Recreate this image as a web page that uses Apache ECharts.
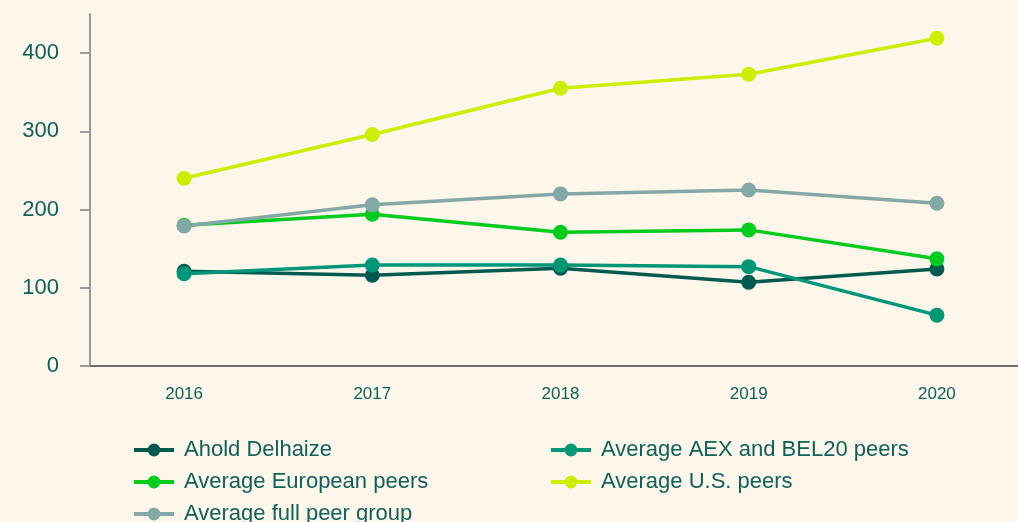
<!DOCTYPE html>
<html lang="en">
<head>
    <meta charset="UTF-8">
    <title>Peer comparison</title>
    <style>
        html, body {
            margin: 0;
            padding: 0;
            background: #fdf7eb;
            overflow: hidden;
        }

        /* the plot runs past the right edge of the window, like the original */
        #main {
            width: 1031px;
            height: 522px;
        }
    </style>
</head>
<body>
<div id="main"></div>
<script src="https://cdn.jsdelivr.net/npm/echarts@6/dist/echarts.min.js"></script>
<script>
    // values
    let years = ['2016', '2017', '2018', '2019', '2020']
    let yTicks = [0, 100, 200, 300, 400]
    let ahold = [121, 116, 125, 107, 124]
    let aexBel = [118, 129, 129, 127, 65]
    let european = [180, 194, 171, 174, 137]
    let usPeers = [240, 296, 355, 373, 419]
    let fullPeers = [179, 206, 220, 225, 208]

    let textColor = '#11605a'
    let font = 'Liberation Sans, Arial, sans-serif'

    function line(name, data, color) {
        return {
            name: name,
            type: 'line',
            data: data,
            symbol: 'circle',
            symbolSize: 15,
            color: color,
            lineStyle: {width: 3.5, color: color},
            itemStyle: {color: color}
        }
    }

    let legendBase = {
        orient: 'vertical',
        top: 439,
        height: 150,
        padding: 0,
        itemWidth: 40,
        itemHeight: 16,
        itemGap: 10,
        lineStyle: {width: 4},
        textStyle: {color: textColor, fontSize: 22, fontFamily: font, padding: [0, 0, 0, 5]}
    }

    let myChart = echarts.init(document.querySelector('#main'))
    let option = {
        backgroundColor: '#fdf7eb',
        animation: false,
        grid: {left: 90, right: 0, top: 14, height: 352, containLabel: false},
        legend: [
            Object.assign({left: 132, data: ['Ahold Delhaize', 'Average European peers', 'Average full peer group']}, legendBase),
            Object.assign({left: 549, data: ['Average AEX and BEL20 peers', 'Average U.S. peers']}, legendBase)
        ],
        xAxis: {
            type: 'category',
            data: years,
            boundaryGap: true,
            axisLine: {lineStyle: {color: '#6e6e6e', width: 2}},
            axisTick: {show: false},
            axisLabel: {color: textColor, fontSize: 17, fontFamily: font, margin: 20}
        },
        yAxis: {
            type: 'value',
            min: 0,
            max: 450,
            interval: 50,
            splitLine: {show: false},
            axisLine: {show: true, lineStyle: {color: '#9a9a9a', width: 2}},
            axisTick: {show: true, length: 10, lineStyle: {color: '#9a9a9a', width: 2}, customValues: yTicks},
            axisLabel: {color: textColor, fontSize: 22, fontFamily: font, margin: 31, customValues: yTicks}
        },
        series: [
            line('Ahold Delhaize', ahold, '#005a50'),
            line('Average AEX and BEL20 peers', aexBel, '#009678'),
            line('Average European peers', european, '#00cc1e'),
            line('Average U.S. peers', usPeers, '#ccee00'),
            line('Average full peer group', fullPeers, '#84a8a6')
        ]
    }
    myChart.setOption(option)
</script>
</body>
</html>
